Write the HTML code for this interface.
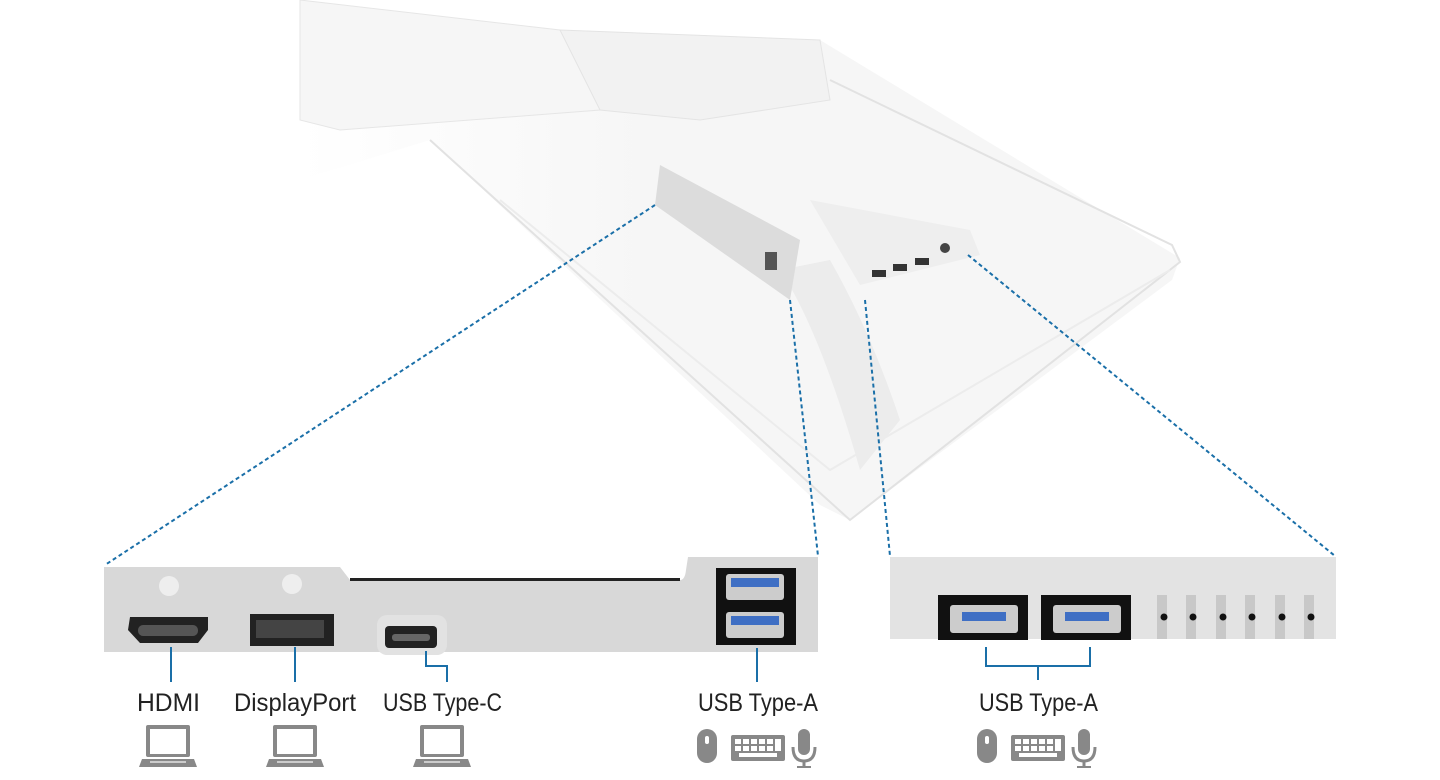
<!DOCTYPE html>
<html><head><meta charset="utf-8"><style>
html,body{margin:0;padding:0;background:#fff;width:1440px;height:780px;overflow:hidden}
svg{display:block}
text{font-family:"Liberation Sans",sans-serif;fill:#222}
</style></head><body>
<svg width="1440" height="780" viewBox="0 0 1440 780" xmlns="http://www.w3.org/2000/svg">
<defs>
<linearGradient id="fadeL" x1="0" x2="1"><stop offset="0" stop-color="#fff"/><stop offset="0.4" stop-color="#f6f6f6"/></linearGradient>
<g id="lap"><rect x="6" y="0" width="44" height="32" rx="2" fill="#888"/><rect x="10" y="4" width="36" height="25" fill="#fff"/><path d="M2 34 H54 L57 42 H-1 Z" fill="#888"/><rect x="10" y="36" width="36" height="2" fill="#ccc"/></g>
<g id="per">
<rect x="0" y="0" width="20" height="34" rx="10" fill="#888"/><rect x="8" y="7" width="4" height="8" rx="2" fill="#fff"/>
<rect x="34" y="6" width="54" height="26" rx="2" fill="#888"/>
<g fill="#fff"><rect x="38" y="10" width="6" height="5"/><rect x="46" y="10" width="6" height="5"/><rect x="54" y="10" width="6" height="5"/><rect x="62" y="10" width="6" height="5"/><rect x="70" y="10" width="6" height="5"/><rect x="78" y="10" width="6" height="12"/><rect x="38" y="17" width="6" height="5"/><rect x="46" y="17" width="6" height="5"/><rect x="54" y="17" width="6" height="5"/><rect x="62" y="17" width="6" height="5"/><rect x="70" y="17" width="6" height="5"/><rect x="42" y="24" width="38" height="4"/></g>
<rect x="101" y="0" width="12" height="26" rx="6" fill="#888"/><path d="M96 18 Q96 32 107 32 Q118 32 118 18" fill="none" stroke="#888" stroke-width="3"/><rect x="105.5" y="32" width="3" height="6" fill="#888"/><rect x="100" y="37" width="14" height="2" fill="#888"/>
</g>
</defs>
<path d="M300 40 L820 40 L1180 258 L1172 280 L850 520 L820 505 L430 140 L300 180 Z" fill="url(#fadeL)"/>
<path d="M430 140 L850 520 L1180 262 L1172 245 L830 80" fill="none" stroke="#e2e2e2" stroke-width="2"/>
<path d="M500 200 L830 470 L1170 270" fill="none" stroke="#ececec" stroke-width="2"/>
<path d="M780 270 Q820 330 860 470 L900 420 Q870 330 830 260 Z" fill="#ececec"/>
<path d="M660 165 L800 240 L790 300 L655 205 Z" fill="#dcdcdc"/>
<path d="M300 0 L560 30 L600 60 L600 110 L340 130 L300 120 Z" fill="#f6f6f6" stroke="#e6e6e6"/>
<path d="M560 30 L820 40 L830 100 L700 120 L600 110 Z" fill="#f2f2f2" stroke="#e4e4e4"/>
<path d="M810 200 L970 230 L980 255 L860 285 Z" fill="#eeeeee"/>
<g fill="#333"><rect x="872" y="270" width="14" height="7"/><rect x="893" y="264" width="14" height="7"/><rect x="915" y="258" width="14" height="7"/></g>
<circle cx="945" cy="248" r="5" fill="#444"/>
<rect x="765" y="252" width="12" height="18" fill="#555"/>
<g stroke="#1a6fa8" stroke-width="2" stroke-dasharray="4 3" fill="none">
<line x1="655" y1="205" x2="105" y2="565"/><line x1="790" y1="300" x2="818" y2="556"/>
<line x1="865" y1="300" x2="890" y2="556"/><line x1="968" y1="255" x2="1335" y2="556"/>
</g>
<path d="M104 567 H340 L350 580 H680 Q685 580 686 570 L688 557 H818 V652 H104 Z" fill="#d8d8d8"/>
<rect x="350" y="578" width="330" height="3" fill="#222"/>
<circle cx="169" cy="586" r="10" fill="#eee"/><circle cx="292" cy="584" r="10" fill="#eee"/>
<path d="M130 617 H208 V630 L198 643 H140 L128 630 Z" fill="#222"/><rect x="138" y="625" width="60" height="11" rx="5" fill="#555"/>
<rect x="250" y="614" width="84" height="32" fill="#222"/><rect x="256" y="620" width="68" height="18" fill="#444"/>
<rect x="377" y="615" width="70" height="40" rx="10" fill="#e2e2e2"/><rect x="385" y="626" width="52" height="22" rx="4" fill="#222"/><rect x="392" y="634" width="38" height="7" rx="3" fill="#666"/>
<rect x="716" y="568" width="80" height="77" fill="#111"/>
<rect x="726" y="574" width="58" height="26" rx="3" fill="#ccc"/><rect x="731" y="578" width="48" height="9" fill="#3f6fc4"/>
<rect x="726" y="612" width="58" height="26" rx="3" fill="#ccc"/><rect x="731" y="616" width="48" height="9" fill="#3f6fc4"/>
<rect x="890" y="557" width="446" height="82" fill="#e3e3e3"/>
<rect x="938" y="595" width="90" height="45" fill="#111"/><rect x="950" y="605" width="68" height="28" rx="3" fill="#ccc"/><rect x="962" y="612" width="44" height="9" fill="#3f6fc4"/>
<rect x="1041" y="595" width="90" height="45" fill="#111"/><rect x="1053" y="605" width="68" height="28" rx="3" fill="#ccc"/><rect x="1065" y="612" width="44" height="9" fill="#3f6fc4"/>
<g fill="#c8c8c8"><rect x="1157" y="595" width="10" height="44"/><rect x="1186" y="595" width="10" height="44"/><rect x="1216" y="595" width="10" height="44"/><rect x="1245" y="595" width="10" height="44"/><rect x="1275" y="595" width="10" height="44"/><rect x="1304" y="595" width="10" height="44"/></g>
<g fill="#111"><circle cx="1164" cy="617" r="3.5"/><circle cx="1193" cy="617" r="3.5"/><circle cx="1223" cy="617" r="3.5"/><circle cx="1252" cy="617" r="3.5"/><circle cx="1282" cy="617" r="3.5"/><circle cx="1311" cy="617" r="3.5"/></g>
<g stroke="#1a6fa8" stroke-width="2" fill="none">
<line x1="171" y1="647" x2="171" y2="682"/>
<line x1="295" y1="647" x2="295" y2="682"/>
<path d="M426 651 V666 H447 V682"/>
<line x1="757" y1="648" x2="757" y2="682"/>
<path d="M986 647 V666 H1090 V647 M1038 666 V680"/>
</g>
<g font-size="25" lengthAdjust="spacingAndGlyphs">
<text x="137" y="711" textLength="63" lengthAdjust="spacingAndGlyphs">HDMI</text>
<text x="234" y="711" textLength="122" lengthAdjust="spacingAndGlyphs">DisplayPort</text>
<text x="383" y="711" textLength="119" lengthAdjust="spacingAndGlyphs">USB Type-C</text>
<text x="698" y="711" textLength="120" lengthAdjust="spacingAndGlyphs">USB Type-A</text>
<text x="979" y="711" textLength="119" lengthAdjust="spacingAndGlyphs">USB Type-A</text>
</g>
<use href="#lap" x="140" y="725"/><use href="#lap" x="267" y="725"/><use href="#lap" x="414" y="725"/>
<use href="#per" x="697" y="729"/><use href="#per" x="977" y="729"/>
</svg>
</body></html>
